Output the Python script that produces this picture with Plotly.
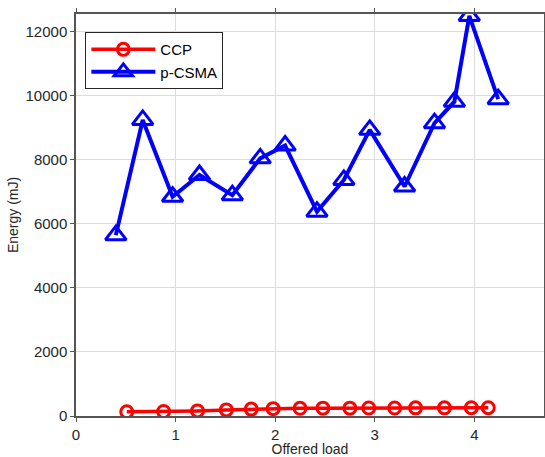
import plotly.graph_objects as go

# Offered load vs. energy consumption for two MAC schemes
ccp_load = [0.51, 0.88, 1.22, 1.51, 1.76, 1.98, 2.25, 2.48, 2.75, 2.94, 3.20, 3.41, 3.70, 3.97, 4.14]
ccp_energy = [130, 140, 160, 190, 215, 230, 240, 245, 245, 250, 250, 255, 255, 260, 260]

csma_load = [0.40, 0.67, 0.97, 1.24, 1.57, 1.85, 2.10, 2.42, 2.69, 2.95, 3.30, 3.60, 3.80, 3.95, 4.24]
csma_energy = [5650, 9250, 6850, 7530, 6900, 8050, 8450, 6385, 7375, 8940, 7170, 9150, 9820, 12500, 9900]

x_ticks = [0, 1, 2, 3, 4]
y_ticks = [0, 2000, 4000, 6000, 8000, 10000, 12000]

font = "Liberation Sans, Arial, sans-serif"
text_col = "#262626"

fig = go.Figure()
fig.add_trace(go.Scatter(
    x=ccp_load, y=ccp_energy, name="CCP", mode="lines+markers",
    line=dict(color="#ff0000", width=3.5),
    marker=dict(symbol="circle-open", size=12, color="#ff0000",
                line=dict(width=3, color="#ff0000")),
))
fig.add_trace(go.Scatter(
    x=csma_load, y=csma_energy, name="p-CSMA", mode="lines+markers",
    line=dict(color="#0000ff", width=4),
    marker=dict(symbol="triangle-up-open", size=18, color="#0000ff",
                line=dict(width=3, color="#0000ff")),
))

axis_common = dict(
    showgrid=True, gridcolor="#dcdcdc", gridwidth=1,
    showline=True, linecolor="#555555", linewidth=1.5, mirror="ticks",
    ticks="outside", ticklen=4, tickcolor="#555555",
    zeroline=False, automargin=False,
    tickfont=dict(family=font, size=15, color=text_col),
)

fig.update_layout(
    width=545, height=457,
    margin=dict(l=76, r=1, t=14, b=41),
    plot_bgcolor="white", paper_bgcolor="white",
    font=dict(family=font, color=text_col),
    showlegend=True,
    legend=dict(
        x=0.02, y=0.955, xanchor="left", yanchor="top",
        bgcolor="white", bordercolor="#262626", borderwidth=1,
        font=dict(family=font, size=15, color="#000000"),
        tracegroupgap=0, itemwidth=64,
    ),
    xaxis=dict(axis_common, range=[0, 4.7], tickvals=x_ticks,
               title=dict(text="Offered load", standoff=2,
                          font=dict(family=font, size=14, color=text_col))),
    yaxis=dict(axis_common, range=[0, 12560], tickvals=y_ticks, tickformat="d",
               title=dict(text="Energy (mJ)", standoff=4,
                          font=dict(family=font, size=14, color=text_col))),
)

fig.write_html("out.html")
